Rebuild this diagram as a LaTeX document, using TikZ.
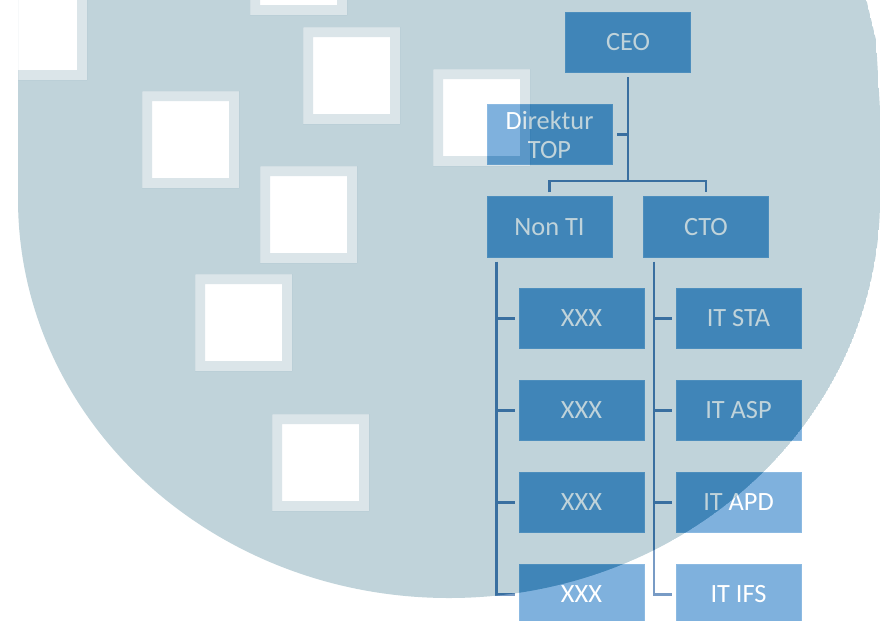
\documentclass[tikz,border=0pt]{standalone}
\usepackage{fontspec}
\setmainfont{Carlito}

\definecolor{boxblue}{RGB}{127,177,221}
\definecolor{boxedge}{RGB}{140,186,226}
\definecolor{linkblue}{RGB}{120,155,197}
\definecolor{logoshade}{RGB}{63,44,37}
\definecolor{logorim}{RGB}{36,26,22}

\tikzset{
  orgbox/.style={fill=boxblue, draw=boxedge, line width=0.4pt, text=white,
    minimum width=2.5cm, minimum height=1.21cm, inner sep=0pt, align=center,
    font=\fontsize{15}{16.5}\selectfont},
  link/.style={draw=linkblue, line width=0.05cm},
}

\begin{document}
\begin{tikzpicture}[x=0.02cm, y=-0.02cm, line join=miter]
    % Variables for the logo behind the chart
    \def\rx{431}  % half width
    \def\ry{399}  % depth of the round bottom
    \def\s{97}    % side of a square
    \def\logopath{(18,-10) -- (18,199)
        arc[start angle=180, end angle=0, x radius=\rx, y radius=\ry]
        -- (880,110) -- (876,40) -- (864,-10) -- cycle}

    % White page, the logo blends with it
    \fill[white] (0,0) rectangle (888,620);
    \useasboundingbox (0,0) rectangle (888,620);

    % Top of the chart
    \node[orgbox] (ceo) at (628,42.5) {CEO};
    \node[orgbox] (dir) at (549.5,134.5) {Direktur\\TOP};
    \node[orgbox] (nonti) at (549.5,227) {Non TI};
    \node[orgbox] (cto) at (706,227) {CTO};

    % Units under Non TI and CTO
    \foreach \i/\y/\unit in {1/318.5/IT STA, 2/410.5/IT ASP, 3/502.5/IT APD, 4/594.5/IT IFS} {
        \node[orgbox] (x\i) at (581.5,\y) {XXX};
        \node[orgbox] (it\i) at (738.5,\y) {\unit};
    }

    % CEO trunk, Direktur tick and the fork
    \coordinate (fork) at (628,181);
    \draw[link, shorten <=0.08cm] (ceo.south) -- (fork);
    \draw[link, shorten >=0.1cm] (ceo.south |- dir.east) -- (dir.east);
    \draw[link, shorten <=0.08cm, shorten >=0.08cm]
        (nonti.north) -- (nonti.north |- fork) -- (cto.north |- fork) -- (cto.north);

    % Trunks on the left of each column
    \coordinate (lt) at ([xshift=0.2cm]nonti.south west);
    \coordinate (rt) at ([xshift=0.22cm]cto.south west);
    \draw[link, shorten <=0.08cm, shorten >=0.08cm] (lt) -- (lt |- x4.west) -- (x4.west);
    \draw[link, shorten <=0.08cm, shorten >=0.08cm] (rt) -- (rt |- it4.west) -- (it4.west);
    \foreach \i in {1,2,3} {
        \draw[link, shorten >=0.08cm] (lt |- x\i.west) -- (x\i.west);
        \draw[link, shorten >=0.08cm] (rt |- it\i.west) -- (it\i.west);
    }

    % Logo on top, the squares are cut out of it
    \begin{scope}
        \clip \logopath;
        \fill[logoshade, blend mode=difference, even odd rule] \logopath
            \foreach \a/\b in {-10/-17, 250/-82, 303/27, 433/69, 142/91, 260/166, 195/274, 272/414}
            { (\a,\b) rectangle ++(\s,\s) };
        % soft rim round each square
        \fill[logorim, blend mode=difference, even odd rule]
            \foreach \a/\b in {-10/-17, 250/-82, 303/27, 433/69, 142/91, 260/166, 195/274, 272/414}
            { (\a,\b) rectangle ++(\s,\s) (\a+10,\b+10) rectangle ++(\s-20,\s-20) };
    \end{scope}

\end{tikzpicture}
\end{document}
